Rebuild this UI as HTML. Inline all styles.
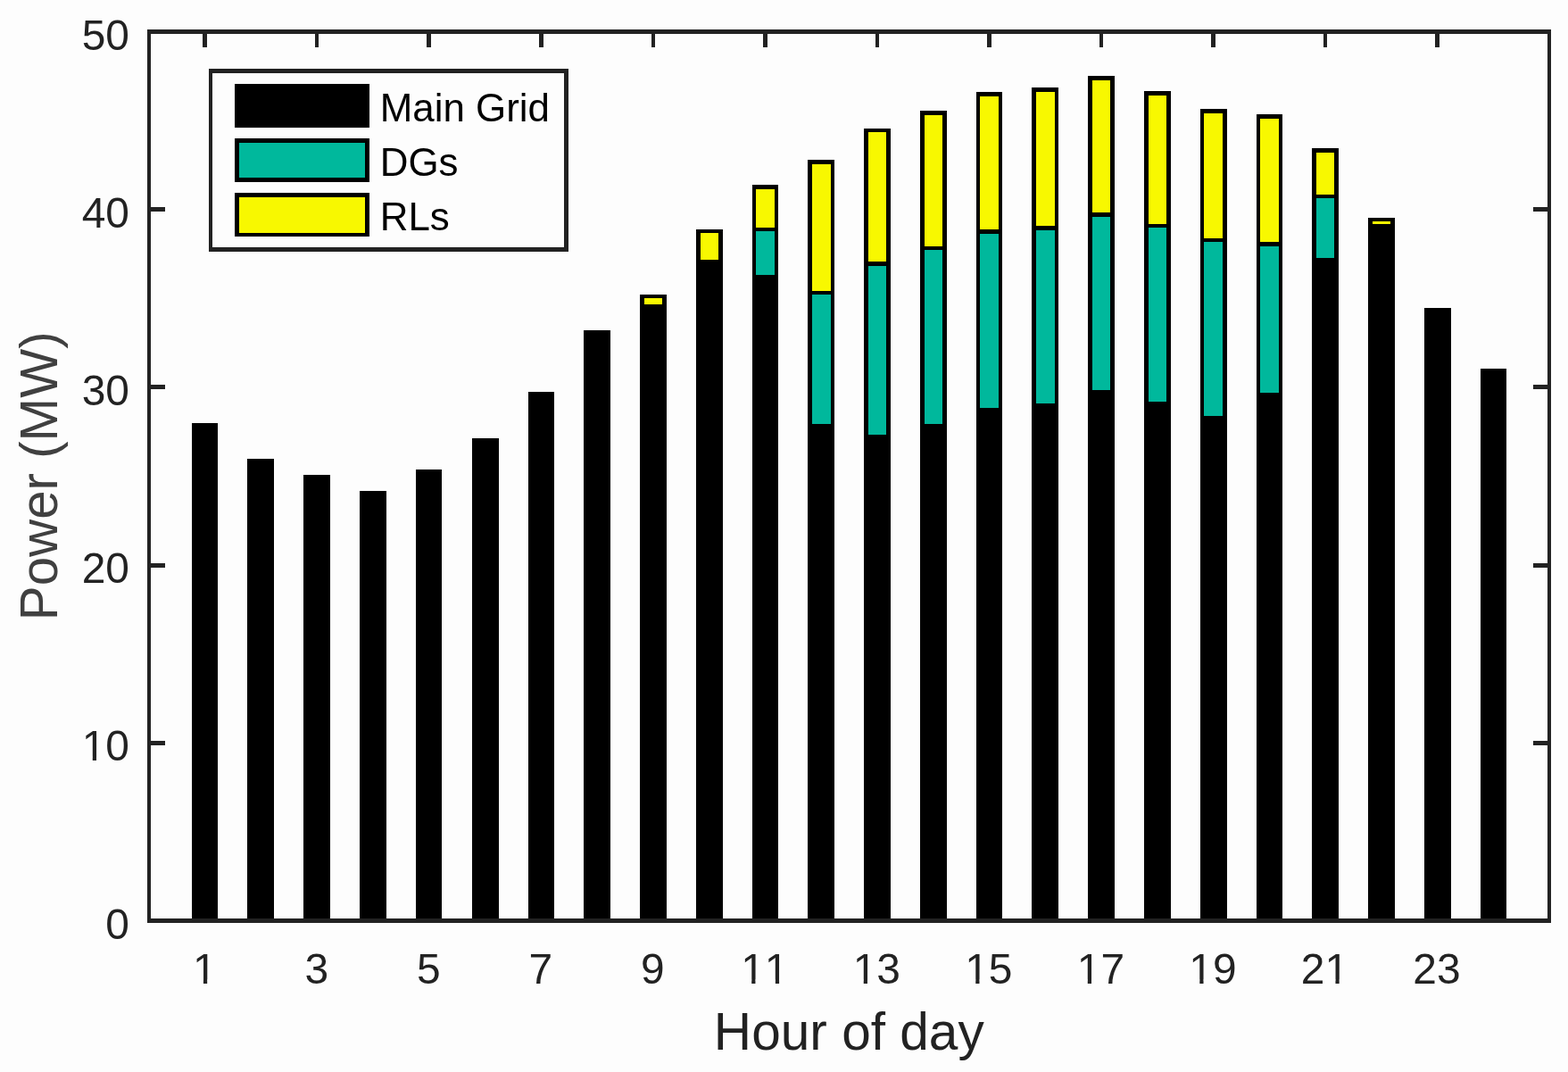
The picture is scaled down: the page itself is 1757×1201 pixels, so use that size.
<!DOCTYPE html>
<html lang="en">
<head>
<meta charset="utf-8">
<title>Power by hour of day</title>
<style>
html,body{margin:0;padding:0;background:#fdfdfd;}
body{width:1757px;height:1201px;overflow:hidden;font-family:"Liberation Sans",Arial,Helvetica,sans-serif;}
svg{display:block;}
</style>
</head>
<body>
<svg width="1757" height="1201" viewBox="0 0 1757 1201">
<defs><clipPath id="c10e" clipPathUnits="userSpaceOnUse"><path clip-rule="evenodd" d="M-200 -80H200V40H-200ZM-50.04 -4.33H-40.63V2H-50.04ZM-36.46 -4.33H-27.42V2H-36.46Z"/></clipPath><clipPath id="c1m" clipPathUnits="userSpaceOnUse"><path clip-rule="evenodd" d="M-200 -80H200V40H-200ZM-10.67 -4.33H-1.26V2H-10.67ZM2.92 -4.33H11.96V2H2.92Z"/></clipPath><clipPath id="c11m" clipPathUnits="userSpaceOnUse"><path clip-rule="evenodd" d="M-200 -80H200V40H-200ZM-23.79 -4.33H-14.38V2H-23.79ZM-10.21 -4.33H-1.17V2H-10.21ZM2.46 -4.33H11.87V2H2.46ZM16.04 -4.33H25.08V2H16.04Z"/></clipPath><clipPath id="c13m" clipPathUnits="userSpaceOnUse"><path clip-rule="evenodd" d="M-200 -80H200V40H-200ZM-23.79 -4.33H-14.38V2H-23.79ZM-10.21 -4.33H-1.17V2H-10.21Z"/></clipPath><clipPath id="c15m" clipPathUnits="userSpaceOnUse"><path clip-rule="evenodd" d="M-200 -80H200V40H-200ZM-23.79 -4.33H-14.38V2H-23.79ZM-10.21 -4.33H-1.17V2H-10.21Z"/></clipPath><clipPath id="c17m" clipPathUnits="userSpaceOnUse"><path clip-rule="evenodd" d="M-200 -80H200V40H-200ZM-23.79 -4.33H-14.38V2H-23.79ZM-10.21 -4.33H-1.17V2H-10.21Z"/></clipPath><clipPath id="c19m" clipPathUnits="userSpaceOnUse"><path clip-rule="evenodd" d="M-200 -80H200V40H-200ZM-23.79 -4.33H-14.38V2H-23.79ZM-10.21 -4.33H-1.17V2H-10.21Z"/></clipPath><clipPath id="c21m" clipPathUnits="userSpaceOnUse"><path clip-rule="evenodd" d="M-200 -80H200V40H-200ZM2.46 -4.33H11.87V2H2.46ZM16.04 -4.33H25.08V2H16.04Z"/></clipPath></defs>
<rect x="0" y="0" width="1757" height="1201" fill="#fdfdfd"/>
<g shape-rendering="crispEdges">
<rect x="227" y="33" width="5" height="20" fill="#222222"/>
<rect x="227" y="1014" width="5" height="20" fill="#222222"/>
<rect x="353" y="33" width="4" height="20" fill="#222222"/>
<rect x="353" y="1014" width="4" height="20" fill="#222222"/>
<rect x="478" y="33" width="5" height="20" fill="#222222"/>
<rect x="478" y="1014" width="5" height="20" fill="#222222"/>
<rect x="604" y="33" width="5" height="20" fill="#222222"/>
<rect x="604" y="1014" width="5" height="20" fill="#222222"/>
<rect x="730" y="33" width="4" height="20" fill="#222222"/>
<rect x="730" y="1014" width="4" height="20" fill="#222222"/>
<rect x="855" y="33" width="5" height="20" fill="#222222"/>
<rect x="855" y="1014" width="5" height="20" fill="#222222"/>
<rect x="981" y="33" width="4" height="20" fill="#222222"/>
<rect x="981" y="1014" width="4" height="20" fill="#222222"/>
<rect x="1106" y="33" width="5" height="20" fill="#222222"/>
<rect x="1106" y="1014" width="5" height="20" fill="#222222"/>
<rect x="1232" y="33" width="4" height="20" fill="#222222"/>
<rect x="1232" y="1014" width="4" height="20" fill="#222222"/>
<rect x="1357" y="33" width="5" height="20" fill="#222222"/>
<rect x="1357" y="1014" width="5" height="20" fill="#222222"/>
<rect x="1483" y="33" width="4" height="20" fill="#222222"/>
<rect x="1483" y="1014" width="4" height="20" fill="#222222"/>
<rect x="1608" y="33" width="5" height="20" fill="#222222"/>
<rect x="1608" y="1014" width="5" height="20" fill="#222222"/>
<rect x="165" y="830" width="20" height="5" fill="#222222"/>
<rect x="1718" y="830" width="20" height="5" fill="#222222"/>
<rect x="165" y="631" width="20" height="5" fill="#222222"/>
<rect x="1718" y="631" width="20" height="5" fill="#222222"/>
<rect x="165" y="431" width="20" height="5" fill="#222222"/>
<rect x="1718" y="431" width="20" height="5" fill="#222222"/>
<rect x="165" y="232" width="20" height="5" fill="#222222"/>
<rect x="1718" y="232" width="20" height="5" fill="#222222"/>
<rect x="215" y="474" width="29" height="557" fill="#000"/>
<rect x="277" y="514" width="30" height="517" fill="#000"/>
<rect x="340" y="532" width="30" height="499" fill="#000"/>
<rect x="403" y="550" width="30" height="481" fill="#000"/>
<rect x="466" y="526" width="29" height="505" fill="#000"/>
<rect x="529" y="491" width="30" height="540" fill="#000"/>
<rect x="592" y="439" width="29" height="592" fill="#000"/>
<rect x="654" y="370" width="30" height="661" fill="#000"/>
<rect x="717" y="330" width="30" height="701" fill="#000"/>
<rect x="722" y="334" width="20" height="7" fill="#F8F800"/>
<rect x="780" y="257" width="30" height="774" fill="#000"/>
<rect x="785" y="261" width="20" height="30" fill="#F8F800"/>
<rect x="843" y="207" width="29" height="824" fill="#000"/>
<rect x="847" y="212" width="21" height="43" fill="#F8F800"/>
<rect x="847" y="259" width="21" height="49" fill="#00B89C"/>
<rect x="905" y="179" width="30" height="852" fill="#000"/>
<rect x="910" y="184" width="21" height="142" fill="#F8F800"/>
<rect x="910" y="330" width="21" height="145" fill="#00B89C"/>
<rect x="968" y="144" width="30" height="887" fill="#000"/>
<rect x="973" y="148" width="20" height="145" fill="#F8F800"/>
<rect x="973" y="298" width="20" height="189" fill="#00B89C"/>
<rect x="1031" y="124" width="30" height="907" fill="#000"/>
<rect x="1036" y="129" width="20" height="147" fill="#F8F800"/>
<rect x="1036" y="280" width="20" height="195" fill="#00B89C"/>
<rect x="1094" y="103" width="29" height="928" fill="#000"/>
<rect x="1098" y="108" width="21" height="149" fill="#F8F800"/>
<rect x="1098" y="262" width="21" height="195" fill="#00B89C"/>
<rect x="1156" y="98" width="30" height="933" fill="#000"/>
<rect x="1161" y="103" width="21" height="150" fill="#F8F800"/>
<rect x="1161" y="258" width="21" height="194" fill="#00B89C"/>
<rect x="1219" y="85" width="30" height="946" fill="#000"/>
<rect x="1224" y="90" width="20" height="148" fill="#F8F800"/>
<rect x="1224" y="243" width="20" height="194" fill="#00B89C"/>
<rect x="1282" y="102" width="30" height="929" fill="#000"/>
<rect x="1287" y="107" width="20" height="144" fill="#F8F800"/>
<rect x="1287" y="255" width="20" height="195" fill="#00B89C"/>
<rect x="1345" y="122" width="30" height="909" fill="#000"/>
<rect x="1349" y="127" width="21" height="140" fill="#F8F800"/>
<rect x="1349" y="271" width="21" height="195" fill="#00B89C"/>
<rect x="1408" y="128" width="29" height="903" fill="#000"/>
<rect x="1412" y="133" width="21" height="138" fill="#F8F800"/>
<rect x="1412" y="276" width="21" height="164" fill="#00B89C"/>
<rect x="1470" y="166" width="30" height="865" fill="#000"/>
<rect x="1475" y="171" width="20" height="47" fill="#F8F800"/>
<rect x="1475" y="222" width="20" height="67" fill="#00B89C"/>
<rect x="1533" y="244" width="30" height="787" fill="#000"/>
<rect x="1538" y="248" width="20" height="3" fill="#F8F800"/>
<rect x="1596" y="345" width="30" height="686" fill="#000"/>
<rect x="1659" y="413" width="29" height="618" fill="#000"/>
<rect x="165" y="33" width="1573" height="5" fill="#222222"/>
<rect x="165" y="1029" width="1573" height="5" fill="#222222"/>
<rect x="165" y="33" width="4" height="1001" fill="#222222"/>
<rect x="1734" y="33" width="4" height="1001" fill="#222222"/>
<rect x="234" y="77" width="403" height="205" fill="#222222"/>
<rect x="238" y="82" width="394" height="195" fill="#fdfdfd"/>
<rect x="263" y="94" width="151" height="49" fill="#000"/>
<rect x="263" y="155" width="151" height="49" fill="#000"/>
<rect x="268" y="160" width="141" height="39" fill="#00B89C"/>
<rect x="263" y="216" width="151" height="49" fill="#000"/>
<rect x="268" y="221" width="141" height="40" fill="#F8F800"/>
</g>
<g font-family="'Liberation Sans', Arial, Helvetica, sans-serif" fill="#222222" style="font-kerning:none">
<text transform="translate(145.00 1051.50) scale(1.015 1.03)" font-size="47.2" text-anchor="end">0</text>
<text transform="translate(145.00 852.30) scale(1.015 1.03)" font-size="47.2" text-anchor="end" clip-path="url(#c10e)">10</text>
<text transform="translate(145.00 653.10) scale(1.015 1.03)" font-size="47.2" text-anchor="end">20</text>
<text transform="translate(145.00 453.90) scale(1.015 1.03)" font-size="47.2" text-anchor="end">30</text>
<text transform="translate(145.00 254.70) scale(1.015 1.03)" font-size="47.2" text-anchor="end">40</text>
<text transform="translate(145.00 55.50) scale(1.015 1.03)" font-size="47.2" text-anchor="end">50</text>
<text transform="translate(229.21 1102.00) scale(1.015 1.03)" font-size="47.2" text-anchor="middle" clip-path="url(#c1m)">1</text>
<text transform="translate(354.73 1102.00) scale(1.015 1.03)" font-size="47.2" text-anchor="middle">3</text>
<text transform="translate(480.25 1102.00) scale(1.015 1.03)" font-size="47.2" text-anchor="middle">5</text>
<text transform="translate(605.77 1102.00) scale(1.015 1.03)" font-size="47.2" text-anchor="middle">7</text>
<text transform="translate(731.29 1102.00) scale(1.015 1.03)" font-size="47.2" text-anchor="middle">9</text>
<text transform="translate(856.81 1102.00) scale(1.015 1.03)" font-size="47.2" text-anchor="middle" clip-path="url(#c11m)">11</text>
<text transform="translate(982.33 1102.00) scale(1.015 1.03)" font-size="47.2" text-anchor="middle" clip-path="url(#c13m)">13</text>
<text transform="translate(1107.85 1102.00) scale(1.015 1.03)" font-size="47.2" text-anchor="middle" clip-path="url(#c15m)">15</text>
<text transform="translate(1233.37 1102.00) scale(1.015 1.03)" font-size="47.2" text-anchor="middle" clip-path="url(#c17m)">17</text>
<text transform="translate(1358.89 1102.00) scale(1.015 1.03)" font-size="47.2" text-anchor="middle" clip-path="url(#c19m)">19</text>
<text transform="translate(1484.41 1102.00) scale(1.015 1.03)" font-size="47.2" text-anchor="middle" clip-path="url(#c21m)">21</text>
<text transform="translate(1609.93 1102.00) scale(1.015 1.03)" font-size="47.2" text-anchor="middle">23</text>
<text transform="translate(951.30 1175.90) scale(1.0 1.025)" font-size="58.6" text-anchor="middle">Hour of day</text>
<text transform="translate(64.00 533.30) rotate(-90) scale(0.995 1.025)" font-size="58.6" text-anchor="middle" fill="#404040">Power (MW)</text>
<text transform="translate(425.70 135.70) scale(1.0 1.03)" font-size="43.9" text-anchor="start" fill="#000">Main Grid</text>
<text transform="translate(425.70 196.70) scale(1.0 1.03)" font-size="43.9" text-anchor="start" fill="#000">DGs</text>
<text transform="translate(425.70 257.80) scale(1.0 1.03)" font-size="43.9" text-anchor="start" fill="#000">RLs</text>
</g>
</svg>
</body>
</html>
